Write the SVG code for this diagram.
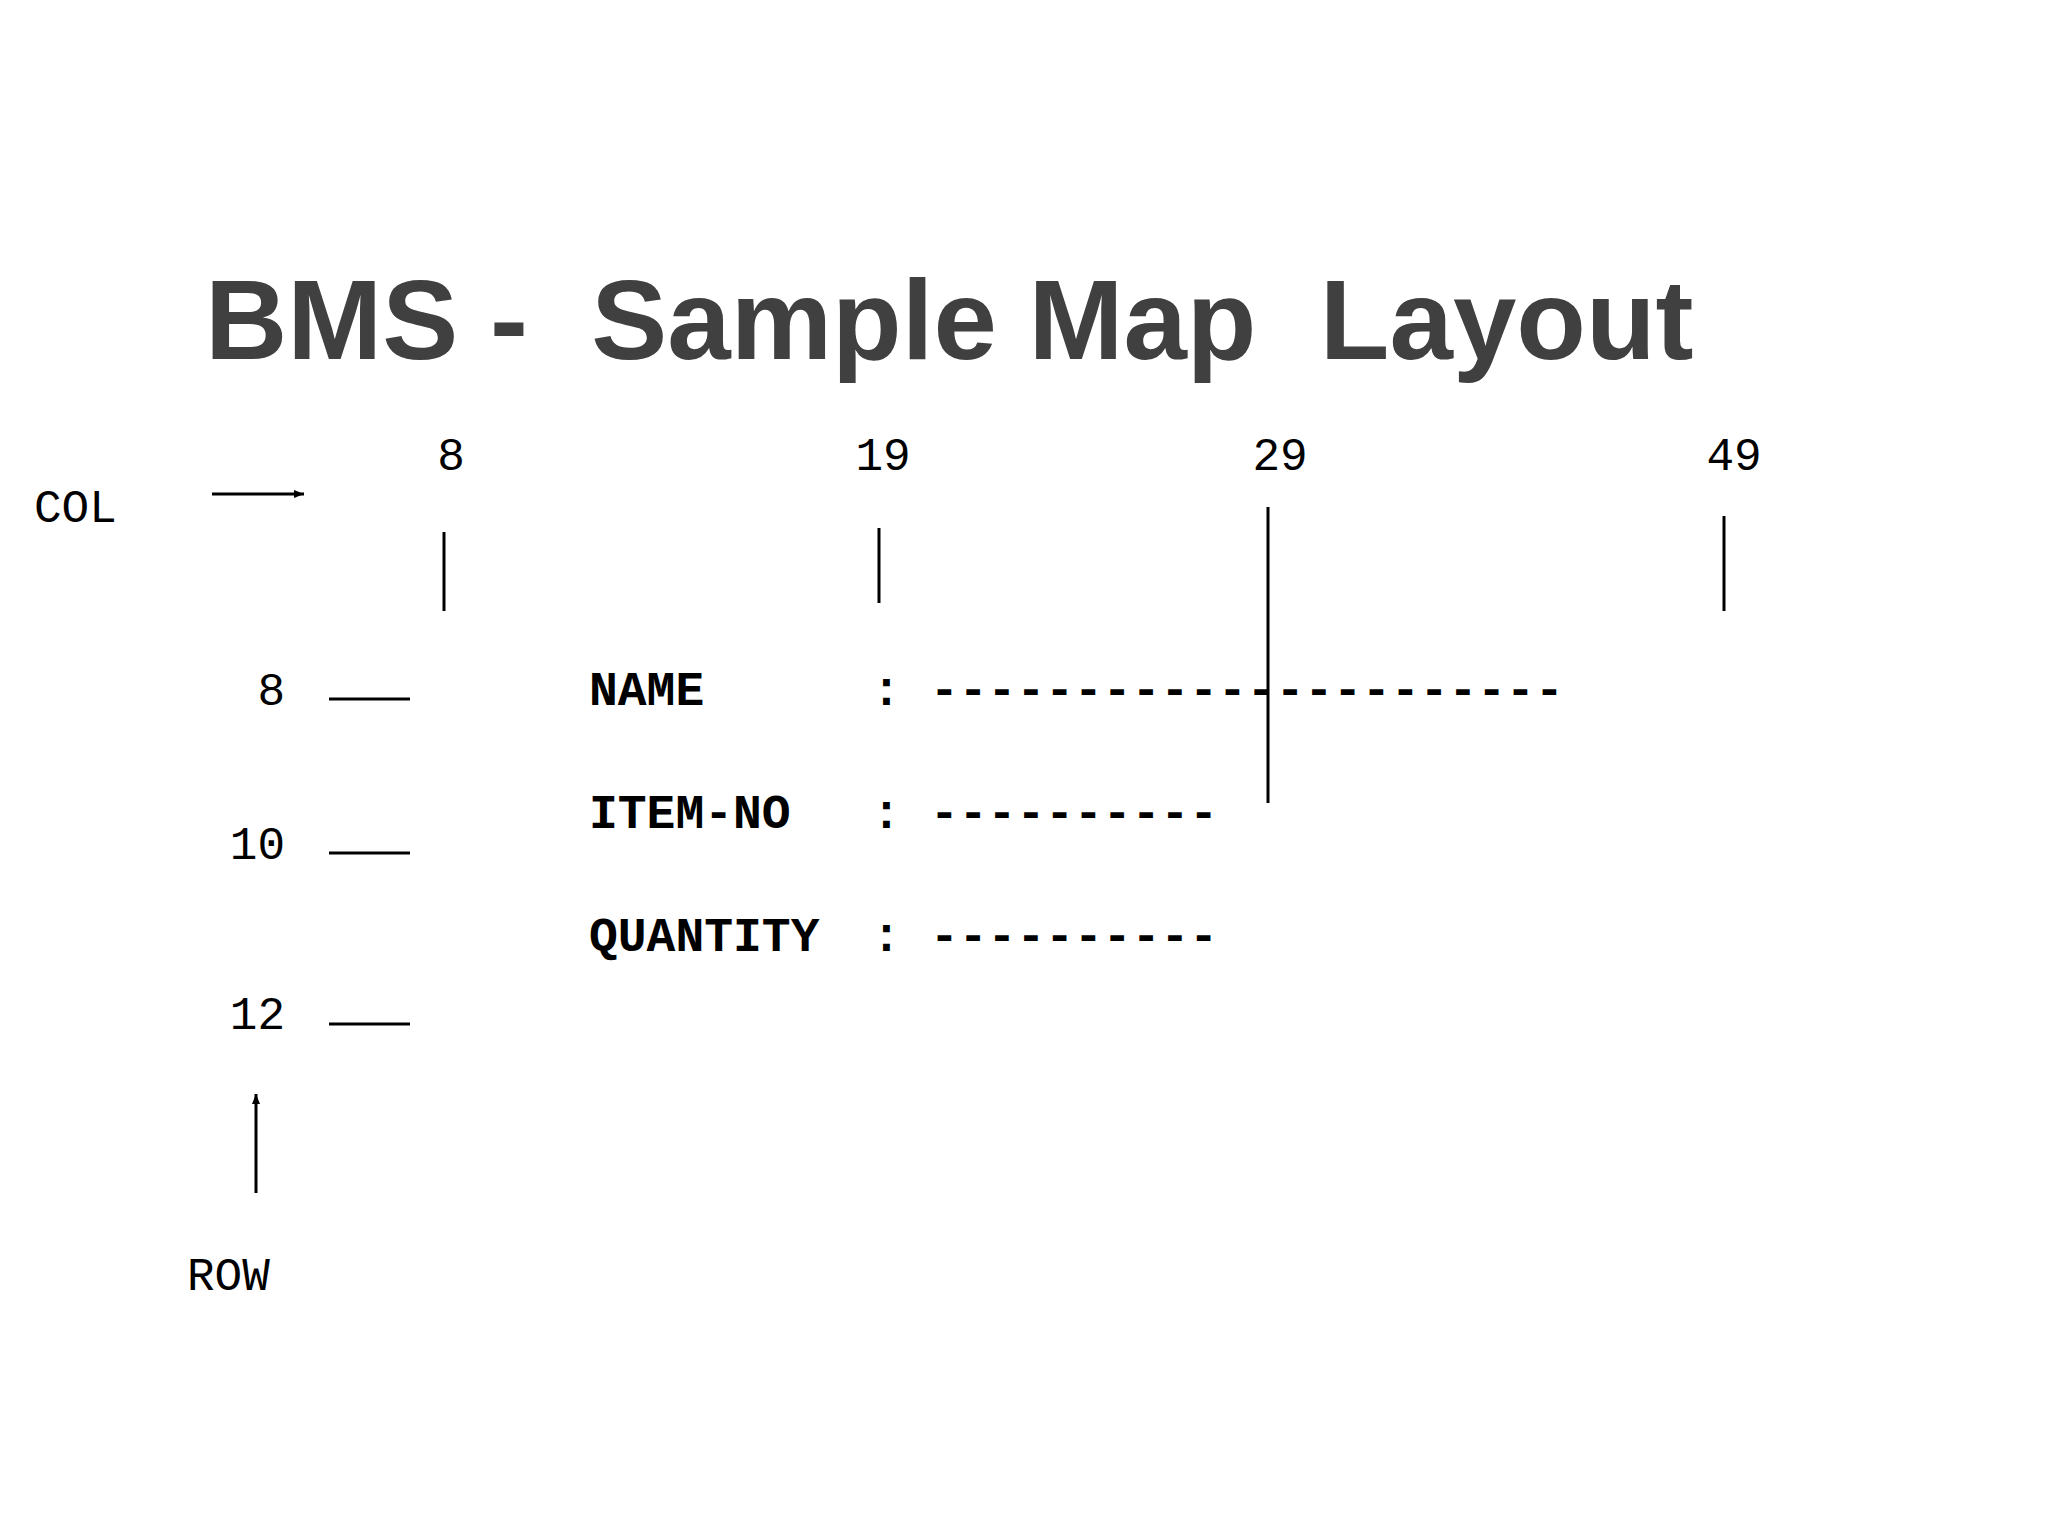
<svg xmlns="http://www.w3.org/2000/svg" width="2048" height="1536" viewBox="0 0 2048 1536">
<style>
.m{font-family:"Liberation Mono",monospace;font-size:46px;fill:#000}
.b{font-family:"Liberation Mono",monospace;font-size:48px;font-weight:bold;fill:#000}
.l{stroke:#000;stroke-width:3}
</style>
<defs><marker id="a" markerWidth="10" markerHeight="8" refX="10" refY="4" orient="auto" markerUnits="userSpaceOnUse" viewBox="0 0 10 8"><path d="M0,0L10,4L0,8z" fill="#000"/></marker></defs>
<rect width="2048" height="1536" fill="#fff"/>
<text x="205" y="359" font-family="Liberation Sans,Arial,sans-serif" font-weight="bold" font-size="114" fill="#404040" xml:space="preserve">BMS -  Sample Map  Layout</text>
<g id="cols">
<text class="m" x="451" y="470" text-anchor="middle">8</text>
<text class="m" x="883" y="470" text-anchor="middle">19</text>
<text class="m" x="1280" y="470" text-anchor="middle">29</text>
<text class="m" x="1734" y="470" text-anchor="middle">49</text>
<text class="m" x="34" y="522">COL</text>
<text class="m" x="285" y="705" text-anchor="end">8</text>
<text class="m" x="285" y="859" text-anchor="end">10</text>
<text class="m" x="285" y="1029" text-anchor="end">12</text>
<text class="m" x="187" y="1290">ROW</text>
</g>
<g id="fields">
<text class="b" x="589" y="705">NAME</text>
<text class="b" x="589" y="828">ITEM-NO</text>
<text class="b" x="589" y="951">QUANTITY</text>
<text class="b" x="872" y="705">:</text>
<text class="b" x="872" y="828">:</text>
<text class="b" x="872" y="951">:</text>
<text class="b" x="930" y="705">----------------------</text>
<text class="b" x="930" y="828">----------</text>
<text class="b" x="930" y="951">----------</text>
</g>
<g id="connectors">
<line class="l" x1="212" y1="494" x2="304" y2="494" marker-end="url(#a)"/>
<line class="l" x1="256" y1="1193" x2="256" y2="1094" marker-end="url(#a)"/>
<line class="l" x1="444" y1="532" x2="444" y2="611"/>
<line class="l" x1="879" y1="528" x2="879" y2="603"/>
<line class="l" x1="1268" y1="507" x2="1268" y2="803"/>
<line class="l" x1="1724" y1="516" x2="1724" y2="611"/>
<line class="l" x1="329" y1="699" x2="410" y2="699"/>
<line class="l" x1="329" y1="853" x2="410" y2="853"/>
<line class="l" x1="329" y1="1024" x2="410" y2="1024"/>
</g>
</svg>
